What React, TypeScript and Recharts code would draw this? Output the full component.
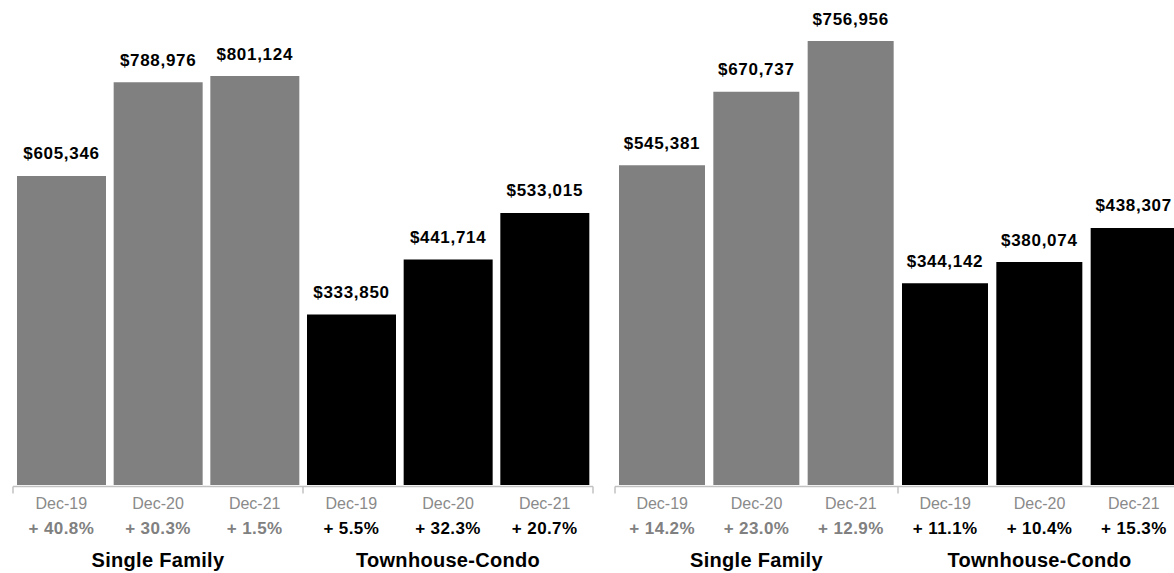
import { Bar, BarChart, Cell, LabelList, XAxis, YAxis } from 'recharts';

const categories = ['Dec-19', 'Dec-20', 'Dec-21', 'Dec-19', 'Dec-20', 'Dec-21'];
const groups = ['Single Family', 'Townhouse-Condo'];

const leftValues = [605346, 788976, 801124, 333850, 441714, 533015];
const leftChanges = ['+ 40.8%', '+ 30.3%', '+ 1.5%', '+ 5.5%', '+ 32.3%', '+ 20.7%'];

const rightValues = [545381, 670737, 756956, 344142, 380074, 438307];
const rightChanges = ['+ 14.2%', '+ 23.0%', '+ 12.9%', '+ 11.1%', '+ 10.4%', '+ 15.3%'];

const GRAY = '#808080';
const BLACK = '#000000';
const AXIS = '#c2c2c2';
const FONT = '"Liberation Sans", Arial, Helvetica, sans-serif';

const HEIGHT = 573;
const PLOT_BOTTOM = 485;

const money = (v: number) => '$' + v.toLocaleString('en-US');

function buildRows(values: number[]) {
  return values.map((value, i) => ({ id: i, label: categories[i], value }));
}

interface PanelProps {
  values: number[];
  changes: string[];
  width: number;
  marginLeft: number;
  marginRight: number;
  yMax: number;
}

function Panel({ values, changes, width, marginLeft, marginRight, yMax }: PanelProps) {
  const data = buildRows(values);
  const plotW = width - marginLeft - marginRight;
  const band = plotW / data.length;
  const axisY = PLOT_BOTTOM + 1.5;

  const renderTick = (props: any) => {
    const { x, index } = props;
    const isSingle = index < 3;
    const left = x - band / 2;
    const right = x + band / 2;
    const bracket = (bx: number) => (
      <line x1={bx} x2={bx} y1={axisY} y2={axisY + 7} stroke={AXIS} strokeWidth={1.5} />
    );
    return (
      <g>
        {index === 0 && (
          <line x1={left} x2={marginLeft + plotW} y1={axisY} y2={axisY} stroke={AXIS} strokeWidth={1.5} />
        )}
        {index === 0 && bracket(left)}
        {(index === 2 || index === 5) && bracket(right)}
        <text x={x} y={508.5} textAnchor="middle" fontFamily={FONT} fontSize={16} fill="#8a8a8a">
          {categories[index]}
        </text>
        <text
          x={x}
          y={533.5}
          textAnchor="middle"
          fontFamily={FONT}
          fontSize={17}
          fontWeight="bold"
          letterSpacing={0.4}
          fill={isSingle ? GRAY : BLACK}
        >
          {changes[index]}
        </text>
        {(index === 1 || index === 4) && (
          <text
            x={x}
            y={567}
            textAnchor="middle"
            fontFamily={FONT}
            fontSize={20}
            fontWeight="bold"
            letterSpacing={0.3}
            fill={BLACK}
          >
            {groups[index === 1 ? 0 : 1]}
          </text>
        )}
      </g>
    );
  };

  return (
    <BarChart
      width={width}
      height={HEIGHT}
      data={data}
      margin={{ top: 0, right: marginRight, bottom: 8, left: marginLeft }}
      barCategoryGap={4}
    >
      <XAxis
        dataKey="id"
        height={HEIGHT - PLOT_BOTTOM - 8}
        axisLine={false}
        tickLine={false}
        interval={0}
        tick={renderTick}
      />
      <YAxis hide domain={[0, yMax]} />
      <Bar dataKey="value" isAnimationActive={false}>
        {data.map((d) => (
          <Cell key={d.id} fill={d.id < 3 ? GRAY : BLACK} />
        ))}
        <LabelList
          dataKey="value"
          content={(p: any) => (
            <text
              x={p.x + p.width / 2}
              y={p.y - 16.5}
              textAnchor="middle"
              fontFamily={FONT}
              fontSize={17}
              fontWeight="bold"
              letterSpacing={0.7}
              fill={BLACK}
            >
              {money(p.value)}
            </text>
          )}
        />
      </Bar>
    </BarChart>
  );
}

export default function App() {
  return (
    <div
      style={{
        position: 'absolute',
        left: 0,
        top: 0,
        width: 1174,
        height: HEIGHT,
        overflow: 'hidden',
        background: '#fff',
      }}
    >
      <div style={{ position: 'absolute', left: 0, top: 0 }}>
        <Panel values={leftValues} changes={leftChanges} width={600} marginLeft={13} marginRight={7} yMax={950000} />
      </div>
      <div style={{ position: 'absolute', left: 600, top: 0 }}>
        <Panel values={rightValues} changes={rightChanges} width={581} marginLeft={15} marginRight={0} yMax={827000} />
      </div>
    </div>
  );
}
